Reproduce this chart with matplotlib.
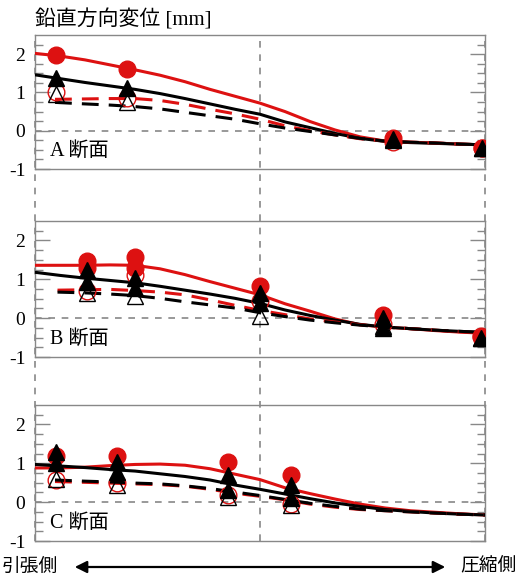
import matplotlib
matplotlib.use('Agg')
import matplotlib.pyplot as plt
from matplotlib.ticker import FixedLocator

FONT = ['Liberation Serif', 'Noto Sans CJK JP']
RED = '#dd1111'
GRAY = '#888888'

# line grid (x positions along the section)
line_x = [-9, -8, -7, -6, -5, -4, -3, -2, -1, 0, 1, 2, 3, 4, 5, 6, 7, 8, 9]

# --- A section ---
A_dash_x = [-8.2, -7, -6, -5, -4, -3, -2, -1, 0, 1, 2, 3, 4, 5, 6, 7, 8, 9]
A_red_line = [2.02, 1.95, 1.85, 1.72, 1.59, 1.45, 1.28, 1.08, 0.90, 0.72, 0.50, 0.24, 0.02, -0.16, -0.27, -0.30, -0.32, -0.35, -0.37]
A_blk_line = [1.46, 1.36, 1.26, 1.17, 1.08, 0.97, 0.84, 0.70, 0.56, 0.43, 0.23, 0.08, -0.07, -0.20, -0.28, -0.31, -0.33, -0.35, -0.37]
A_red_dash = [0.82, 0.83, 0.84, 0.84, 0.79, 0.69, 0.56, 0.44, 0.30, 0.13, 0.00, -0.11, -0.21, -0.27, -0.30, -0.32, -0.35, -0.37]
A_blk_dash = [0.74, 0.70, 0.67, 0.63, 0.57, 0.48, 0.39, 0.30, 0.18, 0.07, -0.02, -0.11, -0.20, -0.27, -0.30, -0.32, -0.35, -0.37]
A_pts_x = [-8.17, -5.33, 5.33, 8.88]
A_red_fill = [1.97, 1.61, -0.18, -0.44]
A_blk_fill = [1.38, 1.12, -0.22, -0.45]
A_red_open = [1.00, 0.86, -0.30, -0.46]
A_blk_open = [0.95, 0.76, -0.25, -0.45]

# --- B section ---
B_dash_x = [-8.1, -7, -6, -5, -4, -3, -2, -1, 0, 1, 2, 3, 4, 5, 6, 7, 8, 9]
B_red_line = [1.36, 1.36, 1.36, 1.37, 1.36, 1.27, 1.12, 0.94, 0.77, 0.60, 0.37, 0.18, -0.02, -0.17, -0.23, -0.27, -0.32, -0.36, -0.39]
B_blk_line = [1.18, 1.10, 1.03, 0.97, 0.91, 0.82, 0.72, 0.62, 0.51, 0.38, 0.21, 0.07, -0.05, -0.16, -0.23, -0.27, -0.31, -0.34, -0.37]
B_red_dash = [0.72, 0.73, 0.74, 0.71, 0.67, 0.60, 0.47, 0.33, 0.20, 0.09, -0.02, -0.10, -0.17, -0.23, -0.27, -0.31, -0.35, -0.39]
B_blk_dash = [0.67, 0.65, 0.62, 0.58, 0.51, 0.42, 0.34, 0.26, 0.14, 0.04, -0.05, -0.12, -0.18, -0.23, -0.27, -0.31, -0.34, -0.37]
B_pts_x = [-6.93, -5.0, 0.0, 4.93, 8.84]
B_red_fill_x = [-6.93, -6.93, -5.0, -5.0, 0.0, 4.93, 8.84]
B_red_fill = [1.47, 1.28, 1.57, 1.30, 0.82, 0.08, -0.49]
B_blk_fill_x = [-6.93, -6.93, -5.0, -5.0, 0.0, 0.0, 4.93, 4.93, 8.84]
B_blk_fill = [1.23, 0.93, 1.03, 0.77, 0.64, 0.38, 0.00, -0.26, -0.51]
B_red_open = [0.70, 1.10, 0.45, -0.15, -0.45]
B_blk_open = [0.64, 0.57, 0.05, -0.20, -0.50]

# --- C section ---
C_dash_x = [-8.2, -7, -6, -5, -4, -3, -2, -1, 0, 1, 2, 3, 4, 5, 6, 7, 8, 9]
C_red_line = [0.88, 0.88, 0.90, 0.94, 0.97, 0.98, 0.95, 0.86, 0.72, 0.58, 0.37, 0.22, 0.08, -0.05, -0.15, -0.22, -0.26, -0.30, -0.33]
C_blk_line = [0.97, 0.93, 0.89, 0.84, 0.80, 0.73, 0.66, 0.57, 0.44, 0.33, 0.21, 0.09, -0.02, -0.11, -0.19, -0.24, -0.28, -0.31, -0.33]
C_red_dash = [0.53, 0.51, 0.49, 0.47, 0.45, 0.41, 0.33, 0.23, 0.15, 0.06, -0.05, -0.13, -0.19, -0.22, -0.25, -0.28, -0.31, -0.33]
C_blk_dash = [0.57, 0.54, 0.52, 0.49, 0.47, 0.42, 0.35, 0.26, 0.17, 0.07, -0.03, -0.11, -0.18, -0.22, -0.25, -0.28, -0.31, -0.33]
C_pts_x = [-8.17, -5.73, -1.29, 1.23]
C_red_fill = [1.20, 1.20, 1.03, 0.69]
C_blk_fill_x = [-8.17, -8.17, -5.73, -5.73, -1.29, -1.29, 1.23, 1.23]
C_blk_fill = [1.29, 1.00, 1.03, 0.77, 0.69, 0.31, 0.44, 0.10]
C_red_open = [0.57, 0.49, 0.18, -0.05]
C_blk_open = [0.60, 0.44, 0.13, -0.08]

panel_labels = ['A 断面', 'B 断面', 'C 断面']
ytick_vals = [-1, 0, 1, 2]
ytick_text = ['-1', '0', '1', '2']
grid_x = [-9, 0, 9]

panels = [
    dict(dash_x=A_dash_x, red_line=A_red_line, blk_line=A_blk_line, red_dash=A_red_dash, blk_dash=A_blk_dash,
         rf_x=A_pts_x, rf=A_red_fill, bf_x=A_pts_x, bf=A_blk_fill, ro_x=A_pts_x, ro=A_red_open, bo=A_blk_open),
    dict(dash_x=B_dash_x, red_line=B_red_line, blk_line=B_blk_line, red_dash=B_red_dash, blk_dash=B_blk_dash,
         rf_x=B_red_fill_x, rf=B_red_fill, bf_x=B_blk_fill_x, bf=B_blk_fill, ro_x=B_pts_x, ro=B_red_open, bo=B_blk_open),
    dict(dash_x=C_dash_x, red_line=C_red_line, blk_line=C_blk_line, red_dash=C_red_dash, blk_dash=C_blk_dash,
         rf_x=C_pts_x, rf=C_red_fill, bf_x=C_blk_fill_x, bf=C_blk_fill, ro_x=C_pts_x, ro=C_red_open, bo=C_blk_open),
]

W, H = 519, 579
fig = plt.figure(figsize=(W / 100, H / 100), dpi=100)

left, right = 35 / W, 485 / W
tops = [35, 221, 405]
bottoms = [169, 357, 541]

# overlay axes for long vertical dashed lines
ov = fig.add_axes([left, 1 - bottoms[-1] / H, right - left, (bottoms[-1] - tops[0]) / H], zorder=0)
ov.set_xlim(-9, 9)
ov.axis('off')
for gx in grid_x:
    ov.axvline(gx, color=GRAY, lw=1.2, ls=(0, (4, 4)), clip_on=False)

lw = 2.2
for i, p in enumerate(panels):
    ax = fig.add_axes([left, 1 - bottoms[i] / H, right - left, (bottoms[i] - tops[i]) / H], zorder=1)
    ax.set_facecolor('none')
    ax.set_xlim(-9, 9)
    ax.set_ylim(-1, 2.5)
    ax.axhline(0, color=GRAY, lw=1.2, ls=(0, (4, 4)), zorder=1)

    ax.plot(line_x, p['red_line'], color=RED, lw=lw, zorder=3)
    ax.plot(line_x, p['blk_line'], color='black', lw=lw, zorder=3)
    ax.plot(p['dash_x'], p['red_dash'], color=RED, lw=lw, dashes=(5.5, 3.3), zorder=3)
    ax.plot(p['dash_x'], p['blk_dash'], color='black', lw=lw, dashes=(5.5, 3.3), zorder=3)

    ax.plot(p['ro_x'], p['ro'], 'o', ms=12, mfc='none', mec=RED, mew=1.0, zorder=4)
    ax.plot(p['ro_x'], p['bo'], '^', ms=11.5, mfc='none', mec='black', mew=1.0, zorder=4)
    ax.plot(p['rf_x'], p['rf'], 'o', ms=12, color=RED, zorder=5)
    ax.plot(p['bf_x'], p['bf'], '^', ms=11.5, color='black', zorder=6)

    for s in ax.spines.values():
        s.set_color(GRAY)
        s.set_linewidth(1.0)
    ax.set_xticks([])
    ax.yaxis.set_major_locator(FixedLocator(ytick_vals))
    ax.yaxis.set_minor_locator(FixedLocator([v / 4 for v in range(-4, 10)]))
    ax.set_yticklabels(ytick_text, fontfamily=FONT, fontsize=14)
    ax.tick_params(axis='y', which='major', direction='in', length=11, width=1, color=GRAY,
                   left=True, right=True, pad=7)
    ax.tick_params(axis='y', which='minor', direction='in', length=6, width=1, color=GRAY,
                   left=True, right=True)

    ax.text(-8.4, -0.55, panel_labels[i], family=FONT, fontsize=14.5, ha='left', va='center')

fig.text(left, 1 - 20 / H, '鉛直方向変位 [mm]', family=FONT, fontsize=15, ha='left', va='center')

# bottom direction arrow
fig.add_artist(matplotlib.patches.FancyArrowPatch((72 / W, 1 - 567 / H), (448 / W, 1 - 567 / H),
               transform=fig.transFigure, arrowstyle='<|-|>', mutation_scale=18, lw=1.6, color='black'))
fig.text(2 / W, 1 - 567 / H, '引張側', family=FONT, fontsize=13.5, ha='left', va='center')
fig.text(1 - 2 / W, 1 - 567 / H, '圧縮側', family=FONT, fontsize=13.5, ha='right', va='center')

fig.savefig('out.png', dpi=100)
